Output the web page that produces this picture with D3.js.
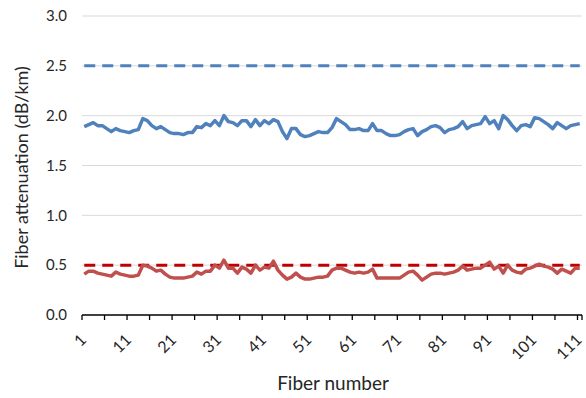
<!DOCTYPE html>
<html>
<head>
<meta charset="utf-8">
<script src="https://cdn.jsdelivr.net/npm/d3@7/dist/d3.min.js"></script>
<style>
  html, body { margin: 0; padding: 0; background: #fff; }
  svg text { font-family: Lato, "Open Sans", sans-serif; fill: #262626; }
</style>
</head>
<body>
<svg id="chart" width="586" height="398"></svg>
<script>
// Fiber attenuation per fiber, measured at two wavelengths
const fibers = d3.range(1, 112);
const upperAttenuation = [
  1.89, 1.91, 1.93, 1.90, 1.90, 1.87, 1.84, 1.87, 1.85, 1.84,
  1.83, 1.85, 1.86, 1.97, 1.95, 1.90, 1.87, 1.89, 1.86, 1.83,
  1.82, 1.82, 1.81, 1.83, 1.83, 1.89, 1.88, 1.92, 1.90, 1.95,
  1.90, 2.00, 1.94, 1.93, 1.90, 1.95, 1.95, 1.89, 1.96, 1.90,
  1.95, 1.92, 1.96, 1.94, 1.84, 1.77, 1.87, 1.87, 1.81, 1.79,
  1.80, 1.82, 1.84, 1.83, 1.83, 1.88, 1.97, 1.94, 1.91, 1.86,
  1.86, 1.87, 1.85, 1.85, 1.92, 1.85, 1.85, 1.82, 1.80, 1.80,
  1.81, 1.84, 1.86, 1.87, 1.80, 1.84, 1.86, 1.89, 1.90, 1.88,
  1.83, 1.86, 1.87, 1.89, 1.94, 1.87, 1.90, 1.91, 1.92, 1.99,
  1.92, 1.95, 1.87, 2.00, 1.96, 1.90, 1.85, 1.90, 1.91, 1.89,
  1.98, 1.97, 1.94, 1.91, 1.87, 1.93, 1.90, 1.87, 1.90, 1.91,
  1.92
];
const lowerAttenuation = [
  0.41, 0.44, 0.44, 0.42, 0.41, 0.40, 0.39, 0.43, 0.41, 0.40,
  0.39, 0.39, 0.40, 0.50, 0.49, 0.47, 0.44, 0.45, 0.41, 0.38,
  0.37, 0.37, 0.37, 0.38, 0.39, 0.43, 0.41, 0.44, 0.44, 0.50,
  0.47, 0.55, 0.47, 0.47, 0.42, 0.48, 0.46, 0.42, 0.50, 0.45,
  0.48, 0.47, 0.54, 0.45, 0.40, 0.36, 0.38, 0.42, 0.38, 0.36,
  0.36, 0.37, 0.38, 0.38, 0.39, 0.45, 0.47, 0.47, 0.45, 0.43,
  0.42, 0.43, 0.42, 0.43, 0.46, 0.37, 0.37, 0.37, 0.37, 0.37,
  0.37, 0.40, 0.43, 0.44, 0.40, 0.35, 0.38, 0.41, 0.42, 0.42,
  0.41, 0.42, 0.43, 0.45, 0.49, 0.45, 0.46, 0.47, 0.47, 0.50,
  0.53, 0.46, 0.49, 0.42, 0.50, 0.45, 0.43, 0.42, 0.46, 0.47,
  0.49, 0.51, 0.49, 0.48, 0.46, 0.42, 0.46, 0.44, 0.42, 0.47,
  0.47
];
// Specification limits
const upperLimit = 2.5;
const lowerLimit = 0.5;
const yTicks = [0.0, 0.5, 1.0, 1.5, 2.0, 2.5, 3.0];
const xLabelFibers = d3.range(1, 112, 10);
const xTickFibers = d3.range(1, 112, 5);

const svg = d3.select("#chart");
const plotLeft = 82, plotRight = 582, plotTop = 16, plotBottom = 315;

const x = d3.scaleBand().domain(fibers).range([plotLeft, plotRight]).padding(0);
const cx = f => x(f) + x.bandwidth() / 2;
const y = d3.scaleLinear().domain([0, 3]).range([plotBottom, plotTop]);

// Horizontal gridlines
svg.append("g").selectAll("line").data(yTicks.slice(1)).join("line")
  .attr("x1", plotLeft).attr("x2", plotRight)
  .attr("y1", d => y(d)).attr("y2", d => y(d))
  .attr("stroke", "#d9d9d9").attr("stroke-width", 1);

// Y axis labels (no axis line)
const yAxis = d3.axisLeft(y).tickValues(yTicks).tickFormat(d3.format(".1f"))
  .tickSize(0).tickPadding(15);
const gy = svg.append("g").attr("transform", `translate(${plotLeft},0)`).call(yAxis);
gy.select(".domain").remove();
gy.selectAll("text").style("font-size", "15px").style("font-family", "Lato, sans-serif").attr("fill", "#404040");

// X axis line and tick marks every 5 fibers
svg.append("line").attr("x1", plotLeft).attr("x2", plotRight)
  .attr("y1", plotBottom).attr("y2", plotBottom)
  .attr("stroke", "#000").attr("stroke-width", 1.3);
const tickPos = xTickFibers.map(f => x(f)).concat([plotRight]);
svg.append("g").selectAll("line").data(tickPos).join("line")
  .attr("x1", d => d).attr("x2", d => d)
  .attr("y1", plotBottom).attr("y2", plotBottom + 5)
  .attr("stroke", "#000").attr("stroke-width", 1.3);

// Rotated x labels
svg.append("g").selectAll("text").data(xLabelFibers).join("text")
  .attr("transform", d => `translate(${cx(d) - 1},${plotBottom + 22}) rotate(-45)`)
  .attr("text-anchor", "end").attr("dy", "0.35em")
  .style("font-size", "16px").attr("fill", "#404040")
  .text(d => d);

// Limit lines
const limitLine = (v, color) => svg.append("line")
  .attr("x1", cx(fibers[0])).attr("x2", cx(fibers[fibers.length - 1]))
  .attr("y1", y(v)).attr("y2", y(v))
  .attr("stroke", color).attr("stroke-width", 3)
  .attr("stroke-dasharray", "11,7");
limitLine(upperLimit, "#4f81bd");
limitLine(lowerLimit, "#c00000");

// Data lines
const line = d3.line().x((d, i) => cx(fibers[i])).y(d => y(d));
svg.append("path").datum(upperAttenuation).attr("d", line)
  .attr("fill", "none").attr("stroke", "#4f81bd").attr("stroke-width", 3.5)
  .attr("stroke-linejoin", "round");
svg.append("path").datum(lowerAttenuation).attr("d", line)
  .attr("fill", "none").attr("stroke", "#c0504d").attr("stroke-width", 3.5)
  .attr("stroke-linejoin", "round");

// Axis titles
svg.append("text")
  .attr("transform", `translate(28,${(plotTop + plotBottom) / 2 + 2}) rotate(-90)`)
  .attr("text-anchor", "middle")
  .style("font-size", "18px")
  .text("Fiber attenuation (dB/km)");
svg.append("text")
  .attr("x", 333).attr("y", 390)
  .attr("text-anchor", "middle")
  .style("font-size", "19px")
  .text("Fiber number");
</script>
</body>
</html>
